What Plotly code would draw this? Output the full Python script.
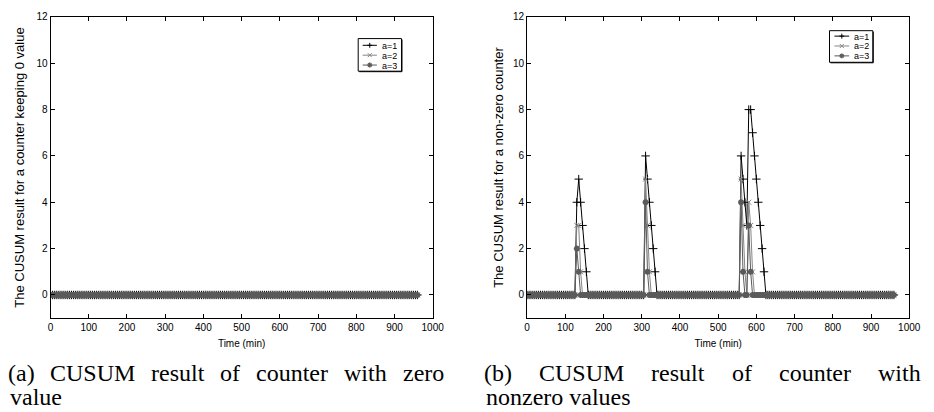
import plotly.graph_objects as go

# ---------------- data ----------------
# sampling instants (min): every 5 minutes from 0 to 960
time_min = list(range(0, 965, 5))

# panel (a): counter keeping 0 value -> all CUSUM results are zero
a_zero_a1 = {}
a_zero_a2 = {}
a_zero_a3 = {}

# panel (b): non-zero counter, non-zero CUSUM values (time: value)
b_nonzero_a1 = {130: 4, 135: 5, 140: 4, 145: 3, 150: 2, 155: 1,
                310: 6, 315: 5, 320: 4, 325: 3, 330: 2, 335: 1,
                560: 6, 565: 5, 570: 4, 575: 3, 580: 8, 585: 8, 590: 7,
                595: 6, 600: 5, 605: 4, 610: 3, 615: 2, 620: 1}
b_nonzero_a2 = {130: 3, 135: 3, 140: 1,
                310: 5, 315: 3, 320: 1,
                560: 5, 565: 3, 570: 1, 580: 4, 585: 3, 590: 1}
b_nonzero_a3 = {130: 2, 135: 1,
                310: 4, 315: 1,
                560: 4, 565: 1, 580: 3, 585: 1}

series_names = ["a=1", "a=2", "a=3"]
x_ticks = [0, 100, 200, 300, 400, 500, 600, 700, 800, 900, 1000]
y_ticks = [0, 2, 4, 6, 8, 10, 12]
y_title_a = "The CUSUM result for a counter keeping 0 value"
y_title_b = "The CUSUM result for a non-zero counter"
x_title = "Time (min)"
caption_a = ["(a) CUSUM result of counter with zero", "value"]
caption_b = ["(b) CUSUM result of counter with", "nonzero values"]

# ---------------- styling ----------------
W, H = 934, 412
colors = ["#000000", "#858585", "#5a5a5a"]
symbols = ["cross-thin-open", "x-thin-open", "asterisk-open"]
msizes = [6, 5, 5]
mwidths = [1, 1, 1.8]
SANS = "Liberation Sans, Arial, sans-serif"
SERIF = "Liberation Serif, Times New Roman, serif"


def px(x):
    return x / W


def py(y):
    return 1 - y / H


def values(spikes):
    return [spikes.get(t, 0) for t in time_min]


fig = go.Figure()
panels = [
    ("x", "y", [a_zero_a1, a_zero_a2, a_zero_a3]),
    ("x2", "y2", [b_nonzero_a1, b_nonzero_a2, b_nonzero_a3]),
]
for xa, ya, sers in panels:
    for i, s in enumerate(sers):
        fig.add_trace(go.Scatter(
            x=time_min, y=values(s), mode="lines+markers", name=series_names[i],
            xaxis=xa, yaxis=ya, showlegend=False,
            line=dict(color=colors[i], width=1),
            marker=dict(symbol=symbols[i], size=msizes[i],
                        line=dict(color=colors[i], width=mwidths[i]), color=colors[i]),
        ))

axis_common = dict(showline=True, linecolor="black", linewidth=1, mirror="allticks",
                   ticks="inside", ticklen=4, tickcolor="black", showgrid=False,
                   zeroline=False, tickfont=dict(family=SANS, size=10, color="black"))

left_x = (48.3, 436.7)
right_x = (532.7, 921.0)
top_y, bot_y = 12.0, 317.0

fig.update_layout(
    width=W, height=H, margin=dict(l=0, r=0, t=0, b=0),
    paper_bgcolor="white", plot_bgcolor="white", showlegend=False,
    xaxis=dict(domain=[px(left_x[0]), px(left_x[1])], range=[0, 1000], tickvals=x_ticks,
               title=dict(text=x_title, font=dict(family=SANS, size=10, color="black"), standoff=7),
               anchor="y", **axis_common),
    yaxis=dict(domain=[py(bot_y), py(top_y)], range=[-1, 12], tickvals=y_ticks,
               title=dict(text=y_title_a, font=dict(family=SANS, size=13, color="black"), standoff=8),
               anchor="x", **axis_common),
    xaxis2=dict(domain=[px(right_x[0]), px(right_x[1])], range=[0, 1000], tickvals=x_ticks,
                title=dict(text=x_title, font=dict(family=SANS, size=10, color="black"), standoff=7),
                anchor="y2", **axis_common),
    yaxis2=dict(domain=[py(bot_y), py(top_y)], range=[-1, 12], tickvals=y_ticks,
                title=dict(text=y_title_b, font=dict(family=SANS, size=13, color="black"), standoff=6),
                anchor="x2", **axis_common),
)

shapes = []
annotations = []


def add_line(x0, y0, x1, y1, color, width=1):
    shapes.append(dict(type="line", xref="paper", yref="paper",
                       x0=px(x0), y0=py(y0), x1=px(x1), y1=py(y1),
                       line=dict(color=color, width=width)))


def add_legend(bx0, by0, bx1, by1, row_off, line_x0, line_x1, text_x):
    shapes.append(dict(type="rect", xref="paper", yref="paper",
                       x0=px(bx0), y0=py(by1), x1=px(bx1), y1=py(by0),
                       line=dict(color="black", width=1), fillcolor="white"))
    add_line(bx0 + 1, by1 + 0.5, bx1 + 0.5, by1 + 0.5, "black", 1)
    add_line(bx1 + 0.5, by0 + 1, bx1 + 0.5, by1 + 0.5, "black", 1)
    for i, name in enumerate(series_names):
        yy = by0 + row_off[i]
        add_line(line_x0, yy, line_x1, yy, colors[i], 1)
        cx = (line_x0 + line_x1) / 2
        if i == 0:
            add_line(cx - 2.5, yy, cx + 2.5, yy, colors[i], 1)
            add_line(cx, yy - 2.5, cx, yy + 2.5, colors[i], 1)
        elif i == 1:
            add_line(cx - 2, yy - 2, cx + 2, yy + 2, colors[i], 1)
            add_line(cx - 2, yy + 2, cx + 2, yy - 2, colors[i], 1)
        else:
            add_line(cx - 2.5, yy, cx + 2.5, yy, colors[i], 1.5)
            add_line(cx, yy - 2.5, cx, yy + 2.5, colors[i], 1.5)
            add_line(cx - 1.8, yy - 1.8, cx + 1.8, yy + 1.8, colors[i], 1.2)
            add_line(cx - 1.8, yy + 1.8, cx + 1.8, yy - 1.8, colors[i], 1.2)
        annotations.append(dict(xref="paper", yref="paper", x=px(text_x), y=py(yy),
                                xanchor="left", yanchor="middle", showarrow=False,
                                borderpad=0, height=9,
                                text=name, font=dict(family=SANS, size=9, color="black")))


add_legend(361, 34, 405, 67, [6.8, 16.8, 26.8], 365.5, 380, 384)
add_legend(840, 26, 884, 58, [5.5, 15.5, 25.5], 845, 860, 863.5)

# caption text, Times-like serif; justified first lines
CW = {"(": .333, ")": .333, "a": .444, "b": .5, "c": .444, "e": .444, "f": .333, "h": .5,
      "i": .278, "l": .278, "n": .5, "o": .5, "r": .333, "s": .389, "t": .278, "u": .5,
      "v": .5, "w": .722, "z": .444, "C": .667, "M": .889, "S": .556, "U": .722}
CAP = 24


def tw(word):
    return sum(CW.get(c, .5) for c in word) * CAP


def caption(lines, x0, x1, baselines):
    words = lines[0].split(" ")
    widths = [tw(w) for w in words]
    gap = (x1 - x0 - sum(widths)) / (len(words) - 1)
    x = x0
    for w, wd in zip(words, widths):
        annotations.append(dict(xref="paper", yref="paper", x=px(x + wd / 2), y=py(baselines[0]),
                                xanchor="center", yanchor="bottom", showarrow=False, text=w,
                                font=dict(family=SERIF, size=CAP, color="black")))
        x += wd + gap
    annotations.append(dict(xref="paper", yref="paper", x=px(x0), y=py(baselines[1]),
                            xanchor="left", yanchor="bottom", showarrow=False, text=lines[1],
                            font=dict(family=SERIF, size=CAP, color="black")))


caption(caption_a, 5, 448, [388, 412])
caption(caption_b, 489, 932, [388, 412])

fig.update_layout(shapes=shapes, annotations=annotations)
fig.write_html("out.html")
